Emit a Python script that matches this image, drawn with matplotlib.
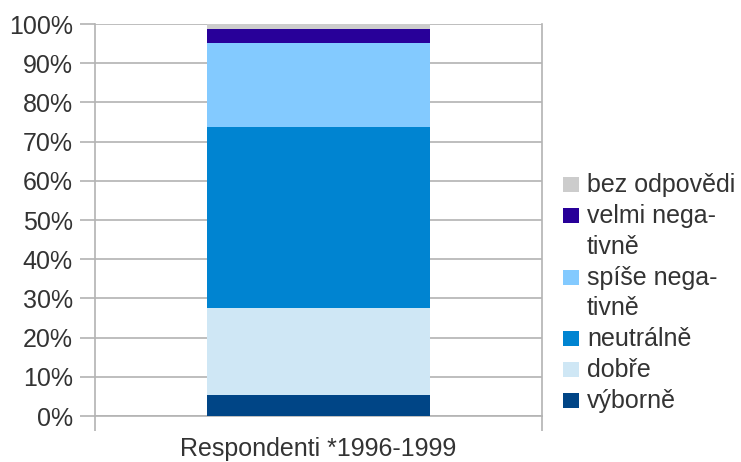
import matplotlib.pyplot as plt
from matplotlib.patches import Rectangle

plt.rcParams['font.family'] = ['Liberation Sans', 'DejaVu Sans']

kategorie = ["Respondenti *1996-1999"]
odpovedi = ["výborně", "dobře", "neutrálně", "spíše nega-\ntivně", "velmi nega-\ntivně", "bez odpovědi"]
hodnoty = [5.4, 22.2, 46.0, 21.6, 3.5, 1.3]
barvy = ["#004586", "#cfe7f5", "#0084d1", "#83caff", "#280099", "#cccccc"]

sediva = "#b3b3b3"
text = "#333333"
W, H = 741, 462

fig = plt.figure(figsize=(W / 100, H / 100), dpi=100)
ax = fig.add_axes([95 / W, 46 / H, 447 / W, 392 / H])

zaklad = 0
for nazev, h, b in zip(odpovedi, hodnoty, barvy):
    ax.bar(0.5, h / 100, width=0.5, bottom=zaklad / 100, color=b, label=nazev, zorder=3)
    zaklad += h

ax.set_xlim(0, 1)
ax.set_ylim(0, 1)
ax.set_yticks([i / 10 for i in range(11)])
ax.set_yticklabels(["%d%%" % (i * 10) for i in range(11)])
ax.yaxis.grid(True, color=sediva, linewidth=1.2, zorder=0)

# hranice kategorie jako tiky na ose x
ax.set_xticks([0, 1])
ax.set_xticklabels([])
ax.set_xticks([0.5], minor=True)
ax.set_xticklabels(kategorie, minor=True)
ax.tick_params(axis="x", which="minor", length=0, pad=15)
ax.tick_params(axis="x", which="major", length=11, width=1.2, color=sediva)
ax.tick_params(axis="y", length=11, width=1.2, color=sediva, pad=5)
ax.tick_params(labelsize=18, labelcolor=text, which="both")

for s in ["left", "right", "bottom"]:
    ax.spines[s].set_color(sediva)
    ax.spines[s].set_linewidth(1.2)
ax.spines["top"].set_visible(False)

# legenda: ctverecek u prvniho radku, radky stejne od sebe
radek = 30.86
y = 192
for nazev, b in zip(odpovedi[::-1], barvy[::-1]):
    fig.patches.append(Rectangle((563 / W, 1 - y / H), 16 / W, 15 / H, facecolor=b,
                                 edgecolor="none", transform=fig.transFigure, figure=fig))
    for cast in nazev.split("\n"):
        fig.text(587 / W, 1 - y / H, cast, fontsize=18, color=text, va="baseline", ha="left")
        y += radek

fig.savefig("out.png", dpi=100)
